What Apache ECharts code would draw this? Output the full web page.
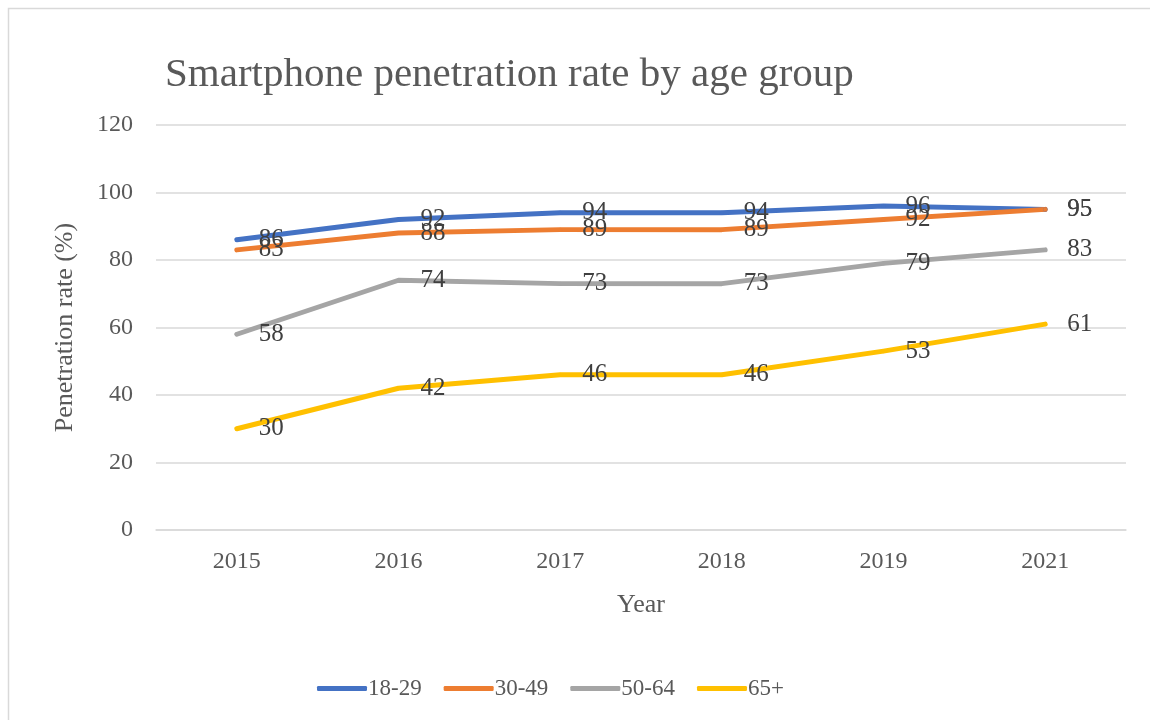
<!DOCTYPE html>
<html>
<head>
<meta charset="utf-8">
<title>Smartphone penetration rate by age group</title>
<script src="https://cdn.jsdelivr.net/npm/echarts@6/dist/echarts.min.js"></script>
<style>
  html, body { margin: 0; padding: 0; background: #fff; }
  #main { width: 1150px; height: 720px; }
</style>
</head>
<body>
<div id="main"></div>
<script>
// chart data
const years = ['2015', '2016', '2017', '2018', '2019', '2021'];
const age18to29 = [86, 92, 94, 94, 96, 95];
const age30to49 = [83, 88, 89, 89, 92, 95];
const age50to64 = [58, 74, 73, 73, 79, 83];
const age65plus = [30, 42, 46, 46, 53, 61];
const yTicks = [0, 20, 40, 60, 80, 100, 120];

const FONT = '"Liberation Serif", "DejaVu Serif", serif';
const TEXT = '#595959';

function line(name, data, color) {
  return {
    name,
    type: 'line',
    data,
    // small symbol hidden under the line, needed so labels get drawn
    symbol: 'circle',
    symbolSize: 4,
    showSymbol: true,
    lineStyle: { width: 5, color, cap: 'round', join: 'round' },
    itemStyle: { color },
    label: {
      show: true,
      position: 'right',
      distance: 20,
      fontFamily: FONT,
      fontSize: 25,
      color: '#404040'
    }
  };
}

const chart = echarts.init(document.getElementById('main'));
chart.setOption({
  animation: false,
  backgroundColor: '#fff',
  textStyle: { fontFamily: FONT },
  graphic: [
    {
      type: 'rect',
      shape: { x: 8.5, y: 8.5, width: 1160, height: 730 },
      style: { fill: 'none', stroke: '#D9D9D9', lineWidth: 1.5 },
      silent: true
    }
  ],
  title: {
    text: 'Smartphone penetration rate by age group',
    left: 160,
    top: 50,
    textStyle: { fontFamily: FONT, fontSize: 41, fontWeight: 'normal', color: TEXT }
  },
  legend: {
    top: 672,
    left: 312,
    itemWidth: 50,
    itemHeight: 5,
    itemGap: 22,
    icon: 'roundRect',
    textStyle: { fontFamily: FONT, fontSize: 23, color: TEXT, padding: [0, 0, 0, -4] },
    data: ['18-29', '30-49', '50-64', '65+']
  },
  grid: { left: 156, right: 24, top: 125, bottom: 190, containLabel: false },
  xAxis: {
    type: 'category',
    data: years,
    boundaryGap: true,
    name: 'Year',
    nameLocation: 'middle',
    nameGap: 62,
    nameTextStyle: { fontFamily: FONT, fontSize: 26, color: TEXT },
    axisLine: { lineStyle: { color: '#D9D9D9', width: 1.5 } },
    axisTick: { show: false },
    axisLabel: { fontFamily: FONT, fontSize: 24, color: TEXT, margin: 20 }
  },
  yAxis: {
    type: 'value',
    min: yTicks[0],
    max: yTicks[yTicks.length - 1],
    interval: 20,
    name: 'Penetration rate (%)',
    nameLocation: 'middle',
    nameGap: 78,
    nameTextStyle: { fontFamily: FONT, fontSize: 26, color: TEXT },
    axisLine: { show: false },
    axisTick: { show: false },
    axisLabel: { fontFamily: FONT, fontSize: 24, color: TEXT, margin: 23 },
    splitLine: { lineStyle: { color: '#D9D9D9', width: 1.5 } }
  },
  series: [
    line('18-29', age18to29, '#4472C4'),
    line('30-49', age30to49, '#ED7D31'),
    line('50-64', age50to64, '#A5A5A5'),
    line('65+', age65plus, '#FFC000')
  ]
});
</script>
</body>
</html>
